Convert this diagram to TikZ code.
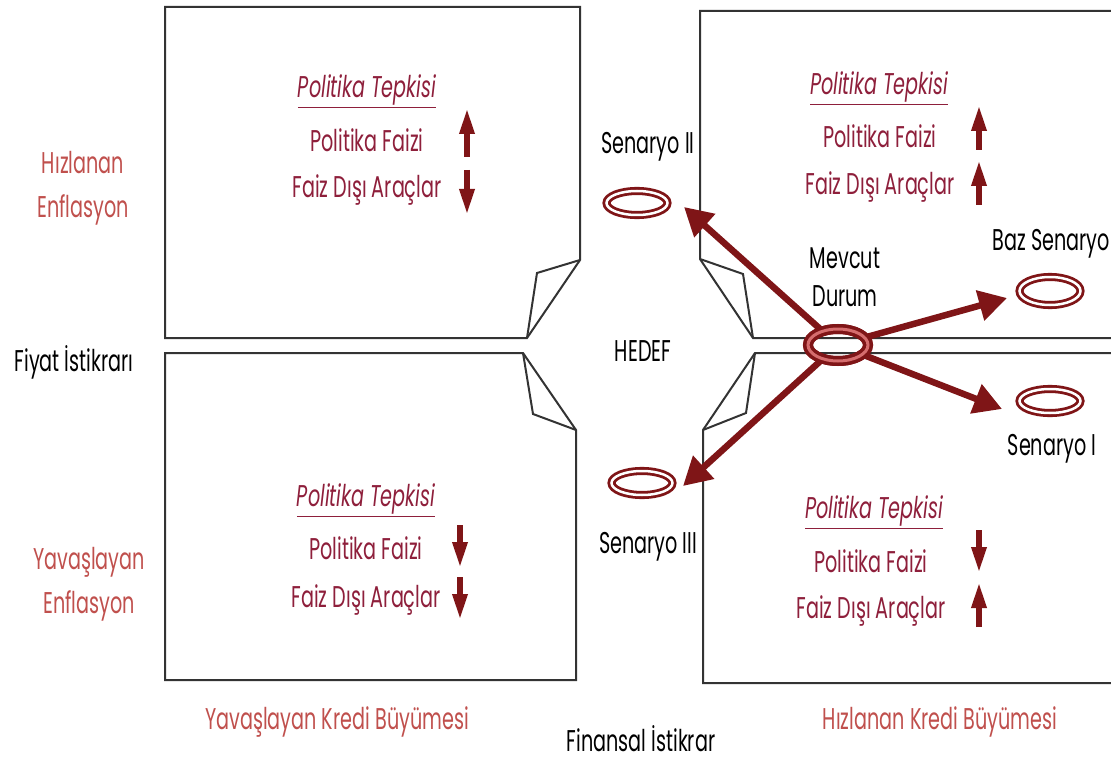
\documentclass[tikz,border=0pt]{standalone}
\usepackage{fontspec}
\setmainfont{Poppins}[FakeStretch=0.64]
\usetikzlibrary{arrows.meta,shapes.geometric}
\definecolor{salmon}{HTML}{C0504D}
\definecolor{maroonx}{HTML}{8E1F3B}
\definecolor{darr}{HTML}{7F1517}
\definecolor{lnc}{HTML}{333333}
\newcommand\fsz[1]{\fontsize{#1}{44}\selectfont}
\begin{document}
\begin{tikzpicture}[x=1pt,y=-1pt,
  box/.style={draw=lnc,line width=2pt,line join=miter},
  axis/.style={font=\fsz{30},text=salmon,align=center,inner sep=0pt},
  blk/.style={font=\fsz{30},text=black,align=center,inner sep=0pt},
  pol/.style={font=\fsz{30},text=maroonx,inner sep=0pt},
  sarr/.style={draw=darr,line width=6pt,-{Triangle[length=26pt,width=14pt]}},
  barr/.style={draw=darr,line width=6.5pt,-{Triangle[length=28pt,width=30pt]}},
  scen/.style={ellipse,draw=darr,line width=2.8pt,double=white,double distance=2.5pt,inner sep=0pt,minimum width=61pt,minimum height=24pt},
  mevs/.style={ellipse,draw=darr,line width=3.5pt,double={red!45!darr!60},double distance=3pt,inner sep=0pt,minimum width=60pt,minimum height=32pt}
]
\useasboundingbox (0,0) rectangle (1111,762);
% boxes
\draw[box] (580,260) -- (580,7) -- (165,7) -- (165,338) -- (527,338) -- cycle;
\draw[box] (580,260) -- (537,273) -- (527,338);
\draw[box] (523,353) -- (165,353) -- (165,680) -- (576,680) -- (576,430) -- cycle;
\draw[box] (523,353) -- (533,414) -- (576,430);
\draw[box] (1115,11) -- (700,11) -- (700,259) -- (753,338) -- (1115,338);
\draw[box] (700,259) -- (743,274) -- (753,338);
\draw[box] (1115,353) -- (755,353) -- (703,430) -- (703,683) -- (1115,683);
\draw[box] (755,353) -- (746,413) -- (703,430);
% axis labels
\node[axis] (hiz) at (83,188) {Hızlanan\\Enflasyon};
\node[axis] (yav) at (89,584) {Yavaşlayan\\Enflasyon};
\node[blk] (fiyat) at (74,362) {Fiyat İstikrarı};
\node[axis] (ykb) at (337,722) {Yavaşlayan Kredi Büyümesi};
\node[axis] (hkb) at (940,722) {Hızlanan Kredi Büyümesi};
\node[blk] (fin) at (641,739) {Finansal İstikrar};
\node[blk] (hedef) at (643,351) {HEDEF};
% policy texts
\node[pol] (tl0) at (367,91) {\underline{\textit{Politika Tepkisi}}};
\node[pol] (tl1) at (367,140) {Politika Faizi};
\node[pol] (tl2) at (367,190) {Faiz Dışı Araçlar};
\node[pol] (tr0) at (879,88) {\underline{\textit{Politika Tepkisi}}};
\node[pol] (tr1) at (880,136) {Politika Faizi};
\node[pol] (tr2) at (880,187) {Faiz Dışı Araçlar};
\node[pol] (bl0) at (366,500) {\underline{\textit{Politika Tepkisi}}};
\node[pol] (bl1) at (366,548) {Politika Faizi};
\node[pol] (bl2) at (366,600) {Faiz Dışı Araçlar};
\node[pol] (br0) at (874,512) {\underline{\textit{Politika Tepkisi}}};
\node[pol] (br1) at (871,561) {Politika Faizi};
\node[pol] (br2) at (871,611) {Faiz Dışı Araçlar};
% small arrows
\coordinate (a1s) at (467,157); \coordinate (a1e) at (467,108);
\coordinate (a2s) at (467,170); \coordinate (a2e) at (467,215);
\coordinate (a3s) at (979,150); \coordinate (a3e) at (979,105);
\coordinate (a4s) at (979,205); \coordinate (a4e) at (979,160);
\coordinate (a5s) at (460,525); \coordinate (a5e) at (460,568);
\coordinate (a6s) at (460,577); \coordinate (a6e) at (460,620);
\coordinate (a7s) at (979,530); \coordinate (a7e) at (979,573);
\coordinate (a8s) at (979,627); \coordinate (a8e) at (979,582);
\foreach \i in {1,...,8} {\draw[sarr] (a\i s) -- (a\i e);}
% scenario labels
\node[blk] (s2l) at (648,147) {Senaryo II};
\node[blk] (s3l) at (648,547) {Senaryo III};
\node[blk] (mevl) at (845,277) {Mevcut\\[-6pt]Durum};
\node[blk,anchor=east] (bazl) at (1110,244) {Baz Senaryo};
\node[blk] (s1l) at (1052,449) {Senaryo I};
% ellipses
\node[scen] (s2) at (637,203) {};
\node[scen] (s3) at (642,483) {};
\node[scen,minimum height=28pt] (baz) at (1050,291) {};
\node[scen] (s1) at (1050,401) {};
\node[mevs] (mev) at (838,345) {};
% big arrows
\coordinate (t2) at (684,207);
\coordinate (t3) at (683,486);
\coordinate (tb) at (1007,298);
\coordinate (t1) at (1002,409);
\draw[barr] (mev) -- (t2);
\draw[barr] (mev) -- (t3);
\draw[barr] (mev) -- (tb);
\draw[barr] (mev) -- (t1);
\node[mevs] at (mev) {};
\end{tikzpicture}
\end{document}
